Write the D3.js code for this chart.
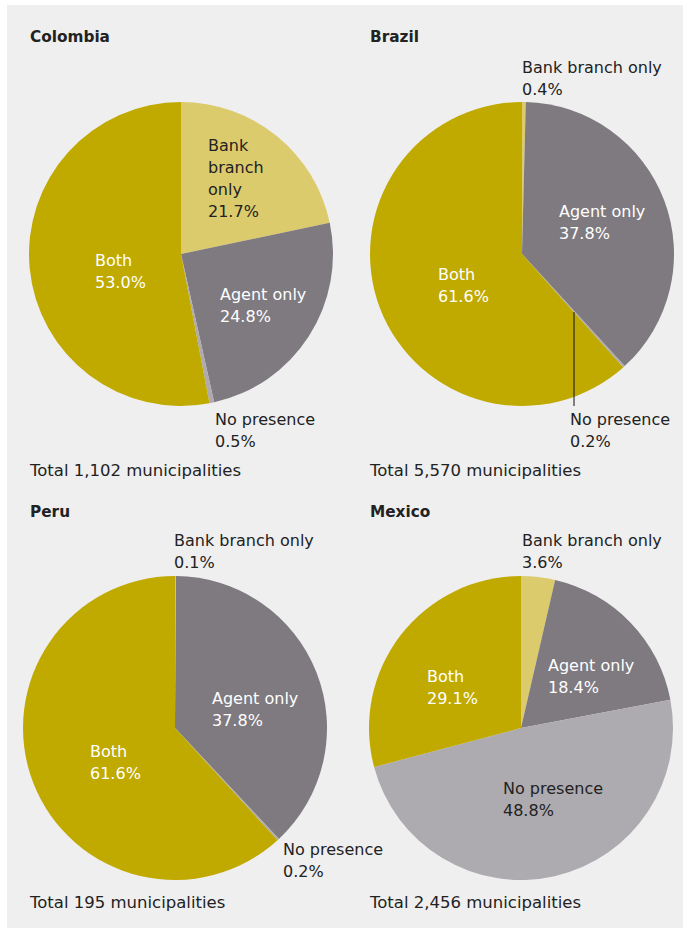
<!DOCTYPE html>
<html>
<head>
<meta charset="utf-8">
<script src="https://cdn.jsdelivr.net/npm/d3@7/dist/d3.min.js"></script>
<style>
  html, body { margin: 0; padding: 0; background: #ffffff; }
  svg { display: block; }
  text { font-family: "DejaVu Sans", sans-serif; }
</style>
</head>
<body>
<svg id="chart" width="688" height="933"></svg>
<script>
// Municipal coverage categories, in the order drawn clockwise from 12 o'clock
const categories = ["Bank branch only", "Agent only", "No presence", "Both"];
const countries = ["Colombia", "Brazil", "Peru", "Mexico"];
const totals = ["1,102", "5,570", "195", "2,456"];

// Share of municipalities (%) per category, same order as categories
const colombiaValues = [21.7, 24.8, 0.5, 53.0];
const brazilValues   = [0.4, 37.8, 0.2, 61.6];
const peruValues     = [0.1, 37.8, 0.2, 61.6];
const mexicoValues   = [3.6, 18.4, 48.8, 29.1];
const seriesValues = [colombiaValues, brazilValues, peruValues, mexicoValues];

const colors = d3.scaleOrdinal()
  .domain(categories)
  .range(["#dccb6d", "#7e7a7f", "#adabaf", "#c0aa00"]);
const labelColors = d3.scaleOrdinal()
  .domain(categories)
  .range(["#222222", "#ffffff", "#222222", "#ffffff"]);

const svg = d3.select("#chart");

svg.append("rect")
  .attr("x", 7).attr("y", 5)
  .attr("width", 676).attr("height", 923)
  .attr("fill", "#efeff0");

// Layout of each small multiple: pie centre, radius, title & total positions
const panels = [
  { cx: 181, cy: 254, r: 152, tx: 30,  ty: 42,  totY: 476 },
  { cx: 522, cy: 254, r: 152, tx: 370, ty: 42,  totY: 476 },
  { cx: 175, cy: 728, r: 152, tx: 30,  ty: 517, totY: 908 },
  { cx: 521, cy: 728, r: 152, tx: 370, ty: 517, totY: 908 }
];

// Label placement (relative to pie centre) per panel & category; lines split on "\n"
const labelLayout = [
  { "Bank branch only": { dx: 27, dy: -103, text: "Bank\nbranch\nonly" },
    "Agent only":       { dx: 39, dy: 46 },
    "No presence":      { dx: 34, dy: 171 },
    "Both":             { dx: -86, dy: 12 } },
  { "Bank branch only": { dx: 0, dy: -181 },
    "Agent only":       { dx: 37, dy: -37 },
    "No presence":      { dx: 48, dy: 171, leader: { x: 52, y1: 58, y2: 152 } },
    "Both":             { dx: -84, dy: 26 } },
  { "Bank branch only": { dx: -1, dy: -182 },
    "Agent only":       { dx: 37, dy: -24 },
    "No presence":      { dx: 108, dy: 127 },
    "Both":             { dx: -85, dy: 29 } },
  { "Bank branch only": { dx: 1, dy: -182 },
    "Agent only":       { dx: 27, dy: -57 },
    "No presence":      { dx: -18, dy: 66 },
    "Both":             { dx: -94, dy: -46 } }
];

const pie = d3.pie().sort(null).value(d => d.value);
const lineH = 22;

countries.forEach((country, i) => {
  const p = panels[i];
  const data = categories.map((c, k) => ({ category: c, value: seriesValues[i][k] }));
  const arc = d3.arc().innerRadius(0).outerRadius(p.r);

  const g = svg.append("g");

  g.append("text")
    .attr("x", p.tx).attr("y", p.ty)
    .attr("font-size", 15.3).attr("font-weight", "bold")
    .attr("fill", "#222")
    .text(country);

  const pg = g.append("g").attr("transform", `translate(${p.cx},${p.cy})`);
  pg.selectAll("path")
    .data(pie(data))
    .join("path")
    .attr("d", arc)
    .attr("fill", d => colors(d.data.category));

  data.forEach(d => {
    const L = labelLayout[i][d.category];
    if (L.leader) {
      pg.append("line")
        .attr("x1", L.leader.x).attr("x2", L.leader.x)
        .attr("y1", L.leader.y1).attr("y2", L.leader.y2)
        .attr("stroke", "#111").attr("stroke-width", 1);
    }
    const inside = !(L.dy < -p.r || L.dy > p.r || L.dx > p.r * 0.6 && L.dy > p.r * 0.75) && d.value > 3;
    const fill = inside ? labelColors(d.category) : "#222222";
    const lines = (L.text || d.category).split("\n").concat([d3.format(".1f")(d.value) + "%"]);
    const t = pg.append("text")
      .attr("x", L.dx).attr("y", L.dy)
      .attr("font-size", 16)
      .attr("fill", fill);
    lines.forEach((s, j) => {
      t.append("tspan").attr("x", L.dx).attr("dy", j === 0 ? 0 : lineH).text(s);
    });
  });

  g.append("text")
    .attr("x", p.tx).attr("y", p.totY)
    .attr("font-size", 16.5)
    .attr("fill", "#222")
    .text(`Total ${totals[i]} municipalities`);
});
</script>
</body>
</html>
